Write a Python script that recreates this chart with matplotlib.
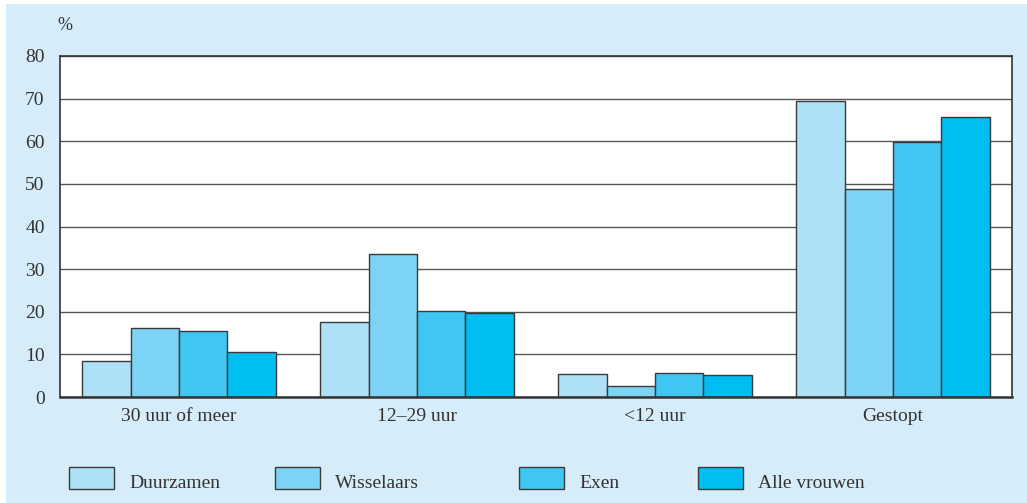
import numpy as np
import matplotlib
matplotlib.use("Agg")
import matplotlib.pyplot as plt
from matplotlib.patches import Rectangle

# Data
categories = ["30 uur of meer", "12–29 uur", "<12 uur", "Gestopt"]
series_names = ["Duurzamen", "Wisselaars", "Exen", "Alle vrouwen"]
duurzamen = [8.5, 17.5, 5.3, 69.5]
wisselaars = [16.1, 33.6, 2.5, 48.7]
exen = [15.5, 20.1, 5.7, 59.8]
alle_vrouwen = [10.5, 19.6, 5.1, 65.7]
yticks = [0, 10, 20, 30, 40, 50, 60, 70, 80]

colors = ["#aee0f8", "#7dd3f5", "#40c6f2", "#00bdf2"]
edge = "#3a3a3a"
txt = "#333333"
bg = "#d6ecf9"

plt.rcParams["font.family"] = ["Liberation Serif", "DejaVu Serif"]

W, H = 1027, 503
fig = plt.figure(figsize=(W / 100, H / 100), dpi=100)
fig.patch.set_facecolor("white")
fig.patches.append(Rectangle((6 / W, 0), 1 - 6 / W, 1 - 4 / H, transform=fig.transFigure,
                             facecolor=bg, edgecolor="none", zorder=-10))

ax = fig.add_axes([60 / W, 1 - 397 / H, (1012 - 60) / W, (397 - 56) / H])
ax.set_facecolor("white")

x = np.arange(len(categories))
w = 0.203
all_series = [duurzamen, wisselaars, exen, alle_vrouwen]
for i, vals in enumerate(all_series):
    ax.bar(x + (i - 1.5) * w, vals, width=w, color=colors[i], edgecolor=edge,
           linewidth=1.0, zorder=3, label=series_names[i])

ax.set_xlim(-0.5, len(categories) - 0.5)
ax.set_ylim(0, 80)
ax.set_yticks(yticks)
ax.set_yticklabels([str(v) for v in yticks], fontsize=14, color=txt)
ax.set_xticks(x)
ax.set_xticklabels(categories, fontsize=14, color=txt)
ax.tick_params(length=0, pad=11)
ax.tick_params(axis="x", pad=8)
ax.yaxis.grid(True, color="#555555", linewidth=1.0, zorder=0)
for s in ax.spines.values():
    s.set_color("#333333")
    s.set_linewidth(1.2)
ax.spines["bottom"].set_linewidth(1.8)
ax.spines["bottom"].set_zorder(4)

fig.text(57 / W, 1 - 25 / H, "%", fontsize=13, color=txt, ha="left", va="center")

# legend, one entry at a time to match the uneven spacing
leg_x = [69, 275, 519, 698]
for i in range(4):
    px = leg_x[i]
    fig.patches.append(Rectangle((px / W, 1 - 489 / H), 45 / W, 22 / H, transform=fig.transFigure,
                                 facecolor=colors[i], edgecolor=edge, linewidth=1.0))
    fig.text((px + 60) / W, 1 - 483 / H, series_names[i], fontsize=14, color=txt,
             ha="left", va="center")

fig.savefig("out.png", dpi=100, facecolor=fig.get_facecolor())
